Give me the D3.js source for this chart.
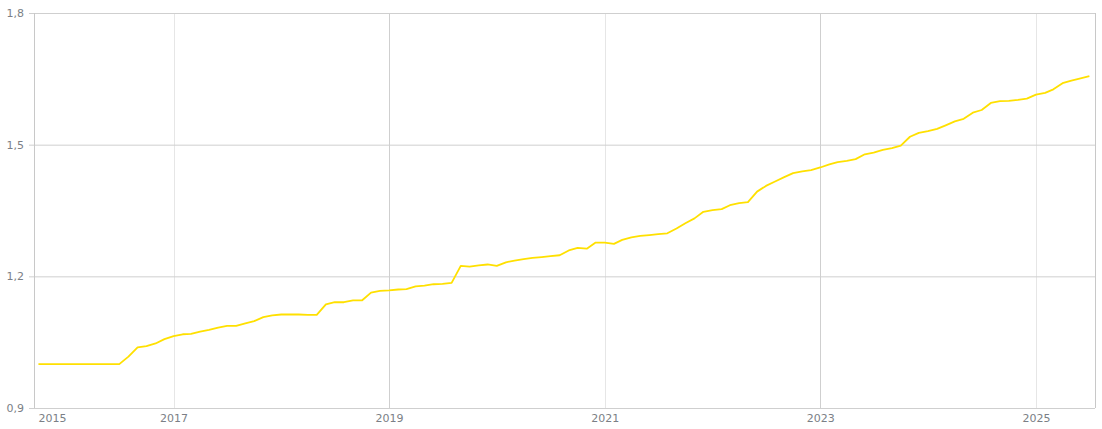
<!DOCTYPE html>
<html>
<head>
<meta charset="utf-8">
<script src="https://cdn.jsdelivr.net/npm/d3@7"></script>
<style>
  html, body { margin: 0; padding: 0; background: #fff; }
  svg { display: block; font-family: "DejaVu Sans", Verdana, sans-serif; }
</style>
</head>
<body>
<svg id="chart" width="1102" height="429"></svg>
<script>
// ---- data (monthly, starting Oct 2015) ----
const startMonth = "2015-10-01";
const values = [
  1.000, 1.000, 1.000, 1.000, 1.000, 1.000, 1.000, 1.000, 1.000, 1.000,
  1.017, 1.038, 1.041, 1.047, 1.057, 1.064, 1.068, 1.069, 1.074, 1.078,
  1.083, 1.087, 1.087, 1.093, 1.098, 1.107, 1.111, 1.113, 1.113, 1.113,
  1.112, 1.112, 1.136, 1.141, 1.141, 1.145, 1.145, 1.163, 1.167, 1.168,
  1.170, 1.171, 1.177, 1.179, 1.182, 1.183, 1.185, 1.224, 1.222, 1.225,
  1.227, 1.224, 1.232, 1.236, 1.239, 1.242, 1.244, 1.246, 1.248, 1.259,
  1.265, 1.263, 1.277, 1.277, 1.274, 1.283, 1.289, 1.292, 1.294, 1.296,
  1.298, 1.309, 1.321, 1.332, 1.347, 1.351, 1.353, 1.362, 1.367, 1.369,
  1.393, 1.406, 1.416, 1.426, 1.435, 1.439, 1.442, 1.448, 1.455, 1.460,
  1.463, 1.467, 1.478, 1.482, 1.488, 1.492, 1.498, 1.518, 1.527, 1.531,
  1.536, 1.544, 1.553, 1.559, 1.573, 1.579, 1.595, 1.599, 1.600, 1.602,
  1.605, 1.614, 1.618, 1.626, 1.640, 1.646, 1.651, 1.656
];
const xDomain = ["2015-09-16", "2025-07-20"];
const yTicks = [0.9, 1.2, 1.5, 1.8];
const yTickLabels = ["0,9", "1,2", "1,5", "1,8"];
const xTickDates = ["2015-11-16", "2017-01-01", "2019-01-01", "2021-01-01", "2023-01-01", "2025-01-01"];
const xTickLabels = ["2015", "2017", "2019", "2021", "2023", "2025"];
const gridDates = ["2017-01-01", "2019-01-01", "2021-01-01", "2023-01-01", "2025-01-01"];
const gridStrong = [false, true, false, true, false];

// ---- build ----
const parse = d3.utcParse("%Y-%m-%d");
const t0 = parse(startMonth);
const data = values.map((v, i) => ({ date: d3.utcMonth.offset(t0, i), value: v }));

const margin = { left: 34, right: 7, top: 13, bottom: 21 };
const W = 1102, H = 429;
const svg = d3.select("#chart");

const x = d3.scaleUtc().domain(xDomain.map(parse)).range([margin.left, W - margin.right]);
const y = d3.scaleLinear().domain([0.9, 1.8]).range([H - margin.bottom, margin.top]);

const textColor = "#7b7f86";

// vertical grid lines
svg.append("g").selectAll("line").data(gridDates).join("line")
  .attr("x1", d => Math.round(x(parse(d))) + 0.5)
  .attr("x2", d => Math.round(x(parse(d))) + 0.5)
  .attr("y1", y(1.8)).attr("y2", y(0.9))
  .attr("stroke", (d, i) => gridStrong[i] ? "#cfcfcf" : "#e6e6e6")
  .attr("stroke-width", 1);

// horizontal grid + y axis
const yAxis = d3.axisLeft(y).tickValues(yTicks)
  .tickFormat((d, i) => yTickLabels[i])
  .tickSize(-(W - margin.left - margin.right))
  .tickPadding(10);
const gy = svg.append("g").attr("transform", `translate(${margin.left},0)`).call(yAxis);
gy.select(".domain").remove();
gy.selectAll(".tick line")
  .attr("x1", -5)
  .attr("stroke", "#cfcfcf");
gy.selectAll(".tick text")
  .attr("fill", textColor)
  .attr("font-size", 11)
  .attr("font-family", "DejaVu Sans, Verdana, sans-serif");

// left axis and right border
svg.append("line")
  .attr("x1", margin.left + 0.5).attr("x2", margin.left + 0.5)
  .attr("y1", y(1.8)).attr("y2", y(0.9))
  .attr("stroke", "#c8c8c8");
svg.append("line")
  .attr("x1", W - margin.right + 0.5).attr("x2", W - margin.right + 0.5)
  .attr("y1", y(1.8)).attr("y2", y(0.9))
  .attr("stroke", "#c8c8c8");

// x axis labels
const xAxis = d3.axisBottom(x).tickValues(xTickDates.map(parse))
  .tickFormat((d, i) => xTickLabels[i])
  .tickSize(0).tickPadding(6);
const gx = svg.append("g").attr("transform", `translate(0,${y(0.9)})`).call(xAxis);
gx.select(".domain").remove();
gx.selectAll(".tick text")
  .attr("fill", textColor)
  .attr("font-size", 11)
  .attr("font-family", "DejaVu Sans, Verdana, sans-serif");

// line
const line = d3.line().x(d => x(d.date)).y(d => y(d.value));
svg.append("path").datum(data)
  .attr("d", line)
  .attr("fill", "none")
  .attr("stroke", "#ffe000")
  .attr("stroke-width", 1.8)
  .attr("stroke-linejoin", "round");
</script>
</body>
</html>
